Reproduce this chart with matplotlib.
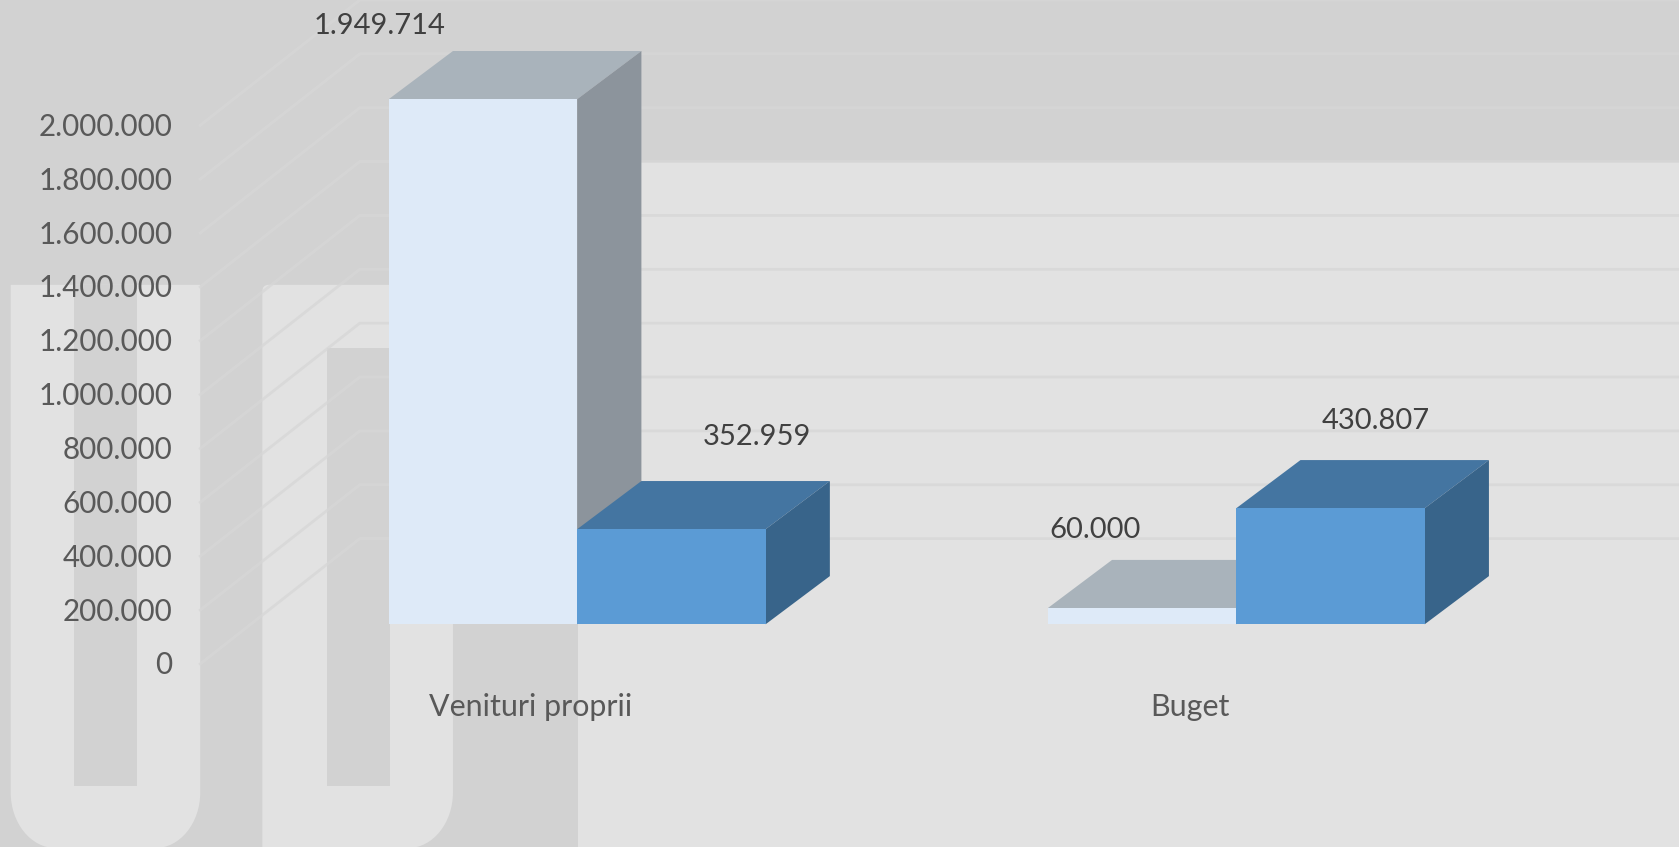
import matplotlib
matplotlib.use("Agg")
import matplotlib.pyplot as plt
from matplotlib.patches import PathPatch, Rectangle, Polygon
from matplotlib.path import Path
from matplotlib.transforms import ScaledTranslation

categories = ["Venituri proprii", "Buget"]
series_light = [1949714, 60000]
series_blue = [352959, 430807]
tick_values = [0, 200000, 400000, 600000, 800000, 1000000, 1200000, 1400000, 1600000, 1800000, 2000000]


def de(v):
    return f"{v:,}".replace(",", ".")


plt.rcParams["font.family"] = ["Lato", "DejaVu Sans"]
W, H = 1568.0, 791.0
DARK, LIGHT = "#d2d2d2", "#e2e2e2"
fig = plt.figure(figsize=(16.79, 8.47), dpi=100, facecolor=DARK)

# ---------- background picture (shrunk-reference pixel space) ----------
bg = fig.add_axes([0, 0, 1, 1], zorder=0)
bg.set_xlim(0, W)
bg.set_ylim(H, 0)
bg.axis("off")
bg.add_patch(Rectangle((0, 0), W, H, fc=DARK, ec="none"))
bg.add_patch(Rectangle((540, 151), W - 540, H - 151, fc=LIGHT, ec="none"))


def u_shape(l, r, top, bottom, rx, ry, k=0.45, square_left=False, tl=0):
    verts = [(l, top + tl)]
    codes = [Path.MOVETO]
    if tl:
        verts += [(l, top), (l + tl, top)]
        codes += [Path.CURVE3, Path.CURVE3]
    verts += [(r, top), (r, bottom - ry), (r, bottom - ry * k), (r - rx * k, bottom), (r - rx, bottom)]
    codes += [Path.LINETO, Path.LINETO, Path.CURVE4, Path.CURVE4, Path.CURVE4]
    if square_left:
        verts += [(l, bottom)]
        codes += [Path.LINETO]
    else:
        verts += [(l + rx, bottom), (l + rx * k, bottom), (l, bottom - ry * k), (l, bottom - ry)]
        codes += [Path.LINETO, Path.CURVE4, Path.CURVE4, Path.CURVE4]
    verts += [(l, top + tl)]
    codes += [Path.CLOSEPOLY]
    return Path(verts, codes)


bg.add_patch(PathPatch(u_shape(10, 187, 266, 792, 42, 52), fc=LIGHT, ec="none"))
bg.add_patch(PathPatch(u_shape(245, 423, 266, 792, 42, 52, square_left=True, tl=6), fc=LIGHT, ec="none"))
bg.add_patch(Rectangle((69, 266), 59, 468, fc=DARK, ec="none"))
bg.add_patch(Rectangle((305, 325), 59, 409, fc=DARK, ec="none"))

# ---------- chart axes: value and category scales ----------
X0, XR, Y0 = 187.0, W, 620.0
UNIT = 615.5
PER_PX = 200000 / 50.3
ax = fig.add_axes([X0 / W, (H - Y0) / H, (XR - X0) / W, Y0 / H], zorder=1)
ax.patch.set_alpha(0)
ax.set_xlim((X0 - 496) / UNIT, (XR - 496) / UNIT)
ax.set_ylim(0, Y0 * PER_PX)
for s in ax.spines.values():
    s.set_visible(False)

WALL_DX, WALL_DY = 149 / UNIT, 117 * PER_PX
BAR_SHIFT_X, BAR_SHIFT_Y = 43 / UNIT, 37 * PER_PX
BAR_W = 176 / UNIT
DEPTH_DX, DEPTH_DY = 60 / UNIT, 45 * PER_PX
LEFT = (X0 - 496) / UNIT

# gridlines: side wall and back wall
for v in tick_values:
    ax.plot([LEFT, LEFT + WALL_DX, 3], [v, v + WALL_DY, v + WALL_DY], color="#d7d7d7", lw=2.0,
            alpha=0.8, zorder=1, clip_on=False, solid_joinstyle="miter")

ax.set_yticks(tick_values)
ax.set_yticklabels([de(v) for v in tick_values])
ax.set_xticks(range(len(categories)))
ax.set_xticklabels(categories)
ax.tick_params(axis="y", length=0, pad=20, labelsize=21.3, labelcolor="#595959")
ax.tick_params(axis="x", length=0, pad=21, labelsize=21.9, labelcolor="#595959")
for lab in ax.get_yticklabels():
    lab.set_transform(lab.get_transform() + ScaledTranslation(0, 1 / 100, fig.dpi_scale_trans))


def bars3d(xs_left, values, front, top, side, z):
    rects = ax.bar(xs_left, values, BAR_W, bottom=BAR_SHIFT_Y, align="edge", color=front,
                   linewidth=0, zorder=z + 1, clip_on=False)
    for rect in rects:
        x, w = rect.get_x(), rect.get_width()
        b, t = rect.get_y(), rect.get_y() + rect.get_height()
        ax.add_patch(Polygon([(x, t), (x + w, t), (x + w + DEPTH_DX, t + DEPTH_DY), (x + DEPTH_DX, t + DEPTH_DY)],
                             fc=top, ec="none", zorder=z, clip_on=False))
        ax.add_patch(Polygon([(x + w, b), (x + w, t), (x + w + DEPTH_DX, t + DEPTH_DY), (x + w + DEPTH_DX, b + DEPTH_DY)],
                             fc=side, ec="none", zorder=z, clip_on=False))
    return rects


pos = list(range(len(categories)))
light_left = [p + BAR_SHIFT_X - BAR_W for p in pos]
blue_left = [p + BAR_SHIFT_X for p in pos]
r1 = bars3d(light_left, series_light, "#deeaf8", "#a9b3bb", "#8c949c", 2)
r2 = bars3d(blue_left, series_blue, "#5b9bd5", "#4475a1", "#38648a", 4)

# data labels, offset from the bar's top-left front corner (figure pixels)
points = [(r1[0], series_light[0], (-9, 73)), (r2[0], series_blue[0], (180, 92)),
          (r1[1], series_light[1], (47, 78)), (r2[1], series_blue[1], (140, 87))]
for rect, value, off in points:
    ax.annotate(de(value), (rect.get_x(), rect.get_y() + rect.get_height()),
                xytext=off, textcoords="offset pixels", ha="center", va="center",
                fontsize=21, color="#404040", zorder=7, annotation_clip=False)

fig.savefig("out.png", dpi=100, facecolor=fig.get_facecolor())
